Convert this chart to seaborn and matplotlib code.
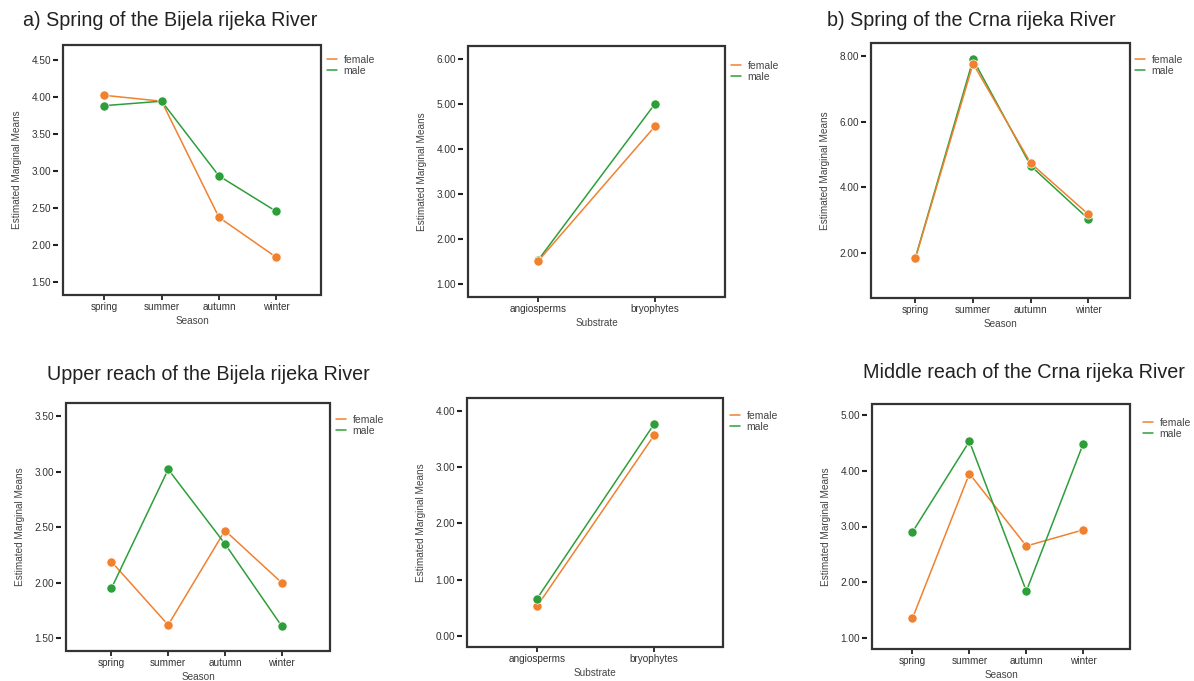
import numpy as np
import pandas as pd
import matplotlib
matplotlib.use('Agg')
import matplotlib.pyplot as plt
from matplotlib.patches import Rectangle
from matplotlib.lines import Line2D
import seaborn as sns

sns.set_theme(style='white')
plt.rcParams['font.family'] = ['Liberation Sans', 'DejaVu Sans']

# 데이터
seasons = ['spring', 'summer', 'autumn', 'winter']
substrates = ['angiosperms', 'bryophytes']
sexes = ['female', 'male']

bijela_spring_female = [4.02, 3.94, 2.37, 1.83]
bijela_spring_male = [3.88, 3.94, 2.93, 2.45]
bijela_spring_sub_female = [1.50, 4.50]
bijela_spring_sub_male = [1.52, 5.00]
crna_spring_female = [1.83, 7.77, 4.73, 3.17]
crna_spring_male = [1.85, 7.90, 4.65, 3.03]
bijela_upper_female = [2.19, 1.62, 2.47, 2.00]
bijela_upper_male = [1.95, 3.02, 2.35, 1.61]
bijela_upper_sub_female = [0.53, 3.56]
bijela_upper_sub_male = [0.665, 3.76]
crna_middle_female = [1.35, 3.95, 2.65, 2.94]
crna_middle_male = [2.90, 4.53, 1.84, 4.49]

pal = {'female': '#F0812F', 'male': '#2E9E3A'}
W, H = 1194, 681

fig = plt.figure(figsize=(W / 100, H / 100), dpi=100)
fig.patch.set_facecolor('white')


def make_df(cats, female, male):
    rows = []
    for c, f, m in zip(cats, female, male):
        rows.append({'cat': c, 'sex': 'female', 'val': f})
        rows.append({'cat': c, 'sex': 'male', 'val': m})
    return pd.DataFrame(rows)


# (box px: left, top, right, bottom), xlim, ylim, yticks, xlabel, legend px (x, y), female on top
panels = [
    (make_df(seasons, bijela_spring_female, bijela_spring_male),
     (63, 45, 321, 295), (-0.72, 3.78), (1.32, 4.70), np.arange(1.5, 4.51, 0.5), 'Season', (327, 55), False),
    (make_df(substrates, bijela_spring_sub_female, bijela_spring_sub_male),
     (468, 46, 725, 297), (-0.6, 1.6), (0.70, 6.29), np.arange(1, 6.01, 1), 'Substrate', (731, 61), True),
    (make_df(seasons, crna_spring_female, crna_spring_male),
     (871, 43, 1130, 298), (-0.77, 3.72), (0.62, 8.40), np.arange(2, 8.01, 2), 'Season', (1135, 55), True),
    (make_df(seasons, bijela_upper_female, bijela_upper_male),
     (66, 403, 330, 651), (-0.80, 3.85), (1.386, 3.617), np.arange(1.5, 3.51, 0.5), 'Season', (336, 415), False),
    (make_df(substrates, bijela_upper_sub_female, bijela_upper_sub_male),
     (467, 398, 723, 647), (-0.6, 1.59), (-0.196, 4.225), np.arange(0, 4.01, 1), 'Substrate', (730, 411), False),
    (make_df(seasons, crna_middle_female, crna_middle_male),
     (872, 404, 1130, 649), (-0.71, 3.82), (0.80, 5.20), np.arange(1, 5.01, 1), 'Season', (1143, 418), False),
]

for df, box, xlim, ylim, yticks, xlabel, leg, female_top in panels:
    l, t, r, b = box
    ax = fig.add_axes([l / W, 1 - b / H, (r - l) / W, (b - t) / H])
    sns.pointplot(data=df, x='cat', y='val', hue='sex', hue_order=sexes,
                  palette=pal, errorbar=None, ax=ax, legend=False,
                  markersize=6.6, linewidth=1.1,
                  markeredgecolor='white', markeredgewidth=0.5)
    lines = ax.get_lines()
    if female_top:
        lines[0].set_zorder(4)
        lines[1].set_zorder(3)
    ax.set_xlim(*xlim)
    ax.set_ylim(*ylim)
    ax.set_yticks(yticks)
    ax.set_yticklabels(['%.2f' % v for v in yticks])

    for s in ['top', 'right']:
        ax.spines[s].set_visible(False)
    ax.spines['left'].set_position(('outward', 3.6))
    ax.spines['left'].set_color('none')
    ax.spines['bottom'].set_color('none')
    ax.add_patch(Rectangle((0, 0), 1, 1, transform=ax.transAxes, fill=False,
                           lw=1.6, ec='#333333', zorder=10, clip_on=False))
    ax.tick_params(axis='y', direction='out', length=3.8, width=1.5, color='#222222',
                   pad=1, labelsize=7.2, labelcolor='#333333', left=True)
    ax.tick_params(axis='x', direction='out', length=3.5, width=1.3, color='#222222',
                   pad=1.5, labelsize=7.2, labelcolor='#333333', bottom=True)
    ax.set_xlabel(xlabel, fontsize=7.2, color='#444444', labelpad=3)
    ax.set_ylabel('Estimated Marginal Means', fontsize=7.2, color='#444444', labelpad=7)
    ax.grid(False)

    handles = [Line2D([], [], color=pal[s], lw=1.1) for s in sexes]
    ax.legend(handles, sexes, loc='upper left',
              bbox_to_anchor=(leg[0] / W, 1 - leg[1] / H), bbox_transform=fig.transFigure,
              frameon=False, fontsize=7.5, handlelength=1.0, handletextpad=0.6,
              labelspacing=0.1, borderaxespad=0, borderpad=0, labelcolor='#444444')

# 제목
fig.text(23 / W, 1 - 20 / H, 'a) Spring of the Bijela rijeka River', fontsize=14.2,
         color='#222222', ha='left', va='center')
fig.text(827 / W, 1 - 20 / H, 'b) Spring of the Crna rijeka River', fontsize=14.2,
         color='#222222', ha='left', va='center')
fig.text(47 / W, 1 - 375 / H, 'Upper reach of the Bijela rijeka River', fontsize=14.2,
         color='#222222', ha='left', va='center')
fig.text(863 / W, 1 - 372 / H, 'Middle reach of the Crna rijeka River', fontsize=14.2,
         color='#222222', ha='left', va='center')

fig.savefig('out.png', dpi=100, facecolor='white')
